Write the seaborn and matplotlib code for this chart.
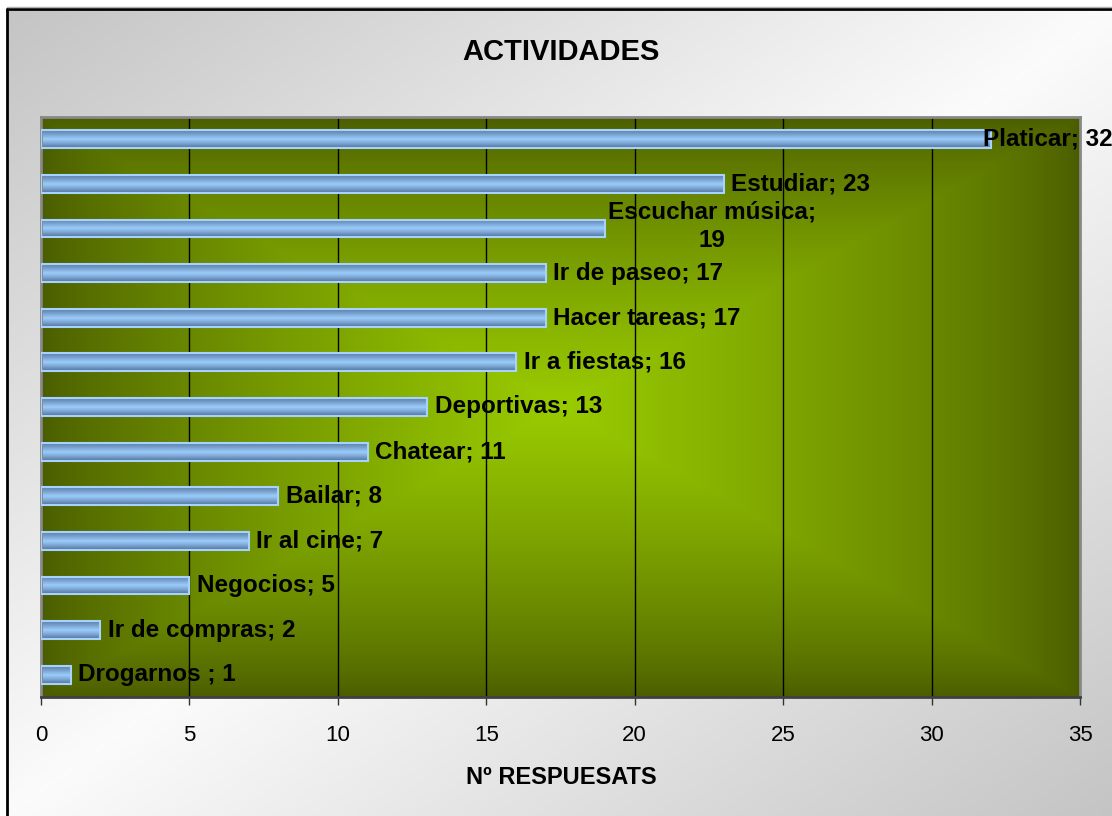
import numpy as np
import matplotlib
matplotlib.use("Agg")
import matplotlib.pyplot as plt
import seaborn as sns
from matplotlib.colors import LinearSegmentedColormap, to_rgb
from matplotlib.lines import Line2D

# ---- data ----
categories = ["Platicar", "Estudiar", "Escuchar música", "Ir de paseo", "Hacer tareas",
              "Ir a fiestas", "Deportivas", "Chatear", "Bailar", "Ir al cine",
              "Negocios", "Ir de compras", "Drogarnos "]
values = [32, 23, 19, 17, 17, 16, 13, 11, 8, 7, 5, 2, 1]
title = "ACTIVIDADES"
xlabel = "Nº RESPUESATS"
xticks = [0, 5, 10, 15, 20, 25, 30, 35]

sns.set_style("white")
plt.rcParams['font.family'] = ['Liberation Sans', 'DejaVu Sans']
plt.rcParams['text.color'] = 'black'
plt.rcParams['xtick.color'] = 'black'
plt.rcParams['xtick.labelcolor'] = 'black'

W, H = 1112, 816
fig = plt.figure(figsize=(W / 100, H / 100), dpi=100)
fig.patch.set_facecolor("white")

# ---- figure background: diagonal grey-white-grey gradient ----
bx0, by_top = 7 / W, 9 / H
bg_ax = fig.add_axes([bx0, 0, 1 - bx0, 1 - by_top], zorder=-10)
bg_ax.set_axis_off()
nu, nv = 400, 300
uu, vv = np.meshgrid(np.linspace(0, 1, nu), np.linspace(0, 1, nv))
tt = (uu + vv) / 2
lev = 0.77 + (0.985 - 0.77) * (1 - np.abs(2 * tt - 1))
bg_ax.imshow(np.dstack([lev, lev, lev]), aspect="auto", extent=[0, 1, 1, 0],
             interpolation="bilinear")
bg_ax.set_xlim(0, 1)
bg_ax.set_ylim(1, 0)
fig.add_artist(Line2D([bx0, bx0], [0, 1 - by_top], transform=fig.transFigure,
                      color="black", lw=2))
fig.add_artist(Line2D([bx0, 1], [1 - by_top, 1 - by_top], transform=fig.transFigure,
                      color="black", lw=2))
fig.add_artist(Line2D([bx0, 1], [1 - 7 / H, 1 - 7 / H], transform=fig.transFigure,
                      color="#b0b0b0", lw=1))

# ---- main axes ----
left, right, top, bottom = 41, 1080, 117, 697
ax = fig.add_axes([left / W, 1 - bottom / H, (right - left) / W, (bottom - top) / H])

sns.barplot(x=values, y=categories, orient="h", width=0.4, ax=ax,
            color="#8fbff0", edgecolor="#a6d2ff", linewidth=1.5)

nb = len(categories)
ax.set_xlim(0, 35)
ax.set_ylim(nb - 0.5, -0.5)

# plot-area green rectangular "from center" gradient
n = 400
gx, gy = np.meshgrid(np.linspace(-1, 1, n), np.linspace(-1, 1, n))
tb = np.maximum(np.abs(gx), np.abs(gy))
c_center = np.array(to_rgb("#9acc00"))
c_edge = np.array(to_rgb("#4a5c00"))
s = ((1 - tb) ** 0.75)[..., None]
img = c_edge + (c_center - c_edge) * s
ax.imshow(img, aspect="auto", extent=[0, 35, nb - 0.5, -0.5],
          interpolation="bilinear", zorder=0.1)

# bar cylinder shading
bar_cmap = LinearSegmentedColormap.from_list(
    "barg", ["#5b7ea8", "#7ba3d0", "#9ccdfc", "#7ba3d0", "#51719a"])
grad = np.linspace(0, 1, 64).reshape(-1, 1)
for p in list(ax.patches):
    x0, y0 = p.get_x(), p.get_y()
    w, h = p.get_width(), p.get_height()
    im = ax.imshow(grad, cmap=bar_cmap, aspect="auto",
                   extent=[x0, x0 + w, y0 + h, y0], zorder=2,
                   interpolation="bilinear")
    im.set_clip_path(p)
    p.set_facecolor("none")
    p.set_zorder(3)
ax.set_xlim(0, 35)
ax.set_ylim(nb - 0.5, -0.5)

# grid
ax.set_axisbelow(True)
ax.xaxis.grid(True, color="black", lw=1)
ax.yaxis.grid(False)
for gl in ax.get_xgridlines():
    gl.set_zorder(0.5)

ax.set_xticks(xticks)
ax.set_xticklabels([str(t) for t in xticks], fontsize=16, color="black")
ax.set_yticks([])
ax.set_ylabel("")
ax.set_xlabel("")
ax.tick_params(axis="x", direction="out", length=6, width=1, color="#333333",
               pad=14, bottom=True)

for sp in ["top", "right", "left"]:
    ax.spines[sp].set_color("#888888")
    ax.spines[sp].set_linewidth(2)
ax.spines["bottom"].set_color("#404040")
ax.spines["bottom"].set_linewidth(2)

# data labels
lab_fs = 17.5
for i, (cat, val) in enumerate(zip(categories, values)):
    if cat == "Escuchar música":
        ax.annotate(f"{cat};\n{val}", xy=(val, i), xytext=(77, 1.5),
                    textcoords="offset points", ha="center", va="center",
                    fontsize=lab_fs, fontweight="bold", linespacing=1.3,
                    color="black", zorder=5, annotation_clip=False)
    elif cat == "Platicar":
        ax.annotate(f"{cat}; {val}", xy=(val, i), xytext=(-6, 0),
                    textcoords="offset points", ha="left", va="center",
                    fontsize=lab_fs, fontweight="bold", color="black", zorder=5,
                    annotation_clip=False)
    else:
        ax.annotate(f"{cat}; {val}", xy=(val, i), xytext=(5.5, 0),
                    textcoords="offset points", ha="left", va="center",
                    fontsize=lab_fs, fontweight="bold", color="black", zorder=5,
                    annotation_clip=False)

fig.text(561 / W, 1 - 52 / H, title, ha="center", va="center",
         fontsize=21, fontweight="bold", color="black")
fig.text(561 / W, 1 - 777 / H, xlabel, ha="center", va="center",
         fontsize=17, fontweight="bold", color="black")

fig.savefig("out.png", dpi=100)
